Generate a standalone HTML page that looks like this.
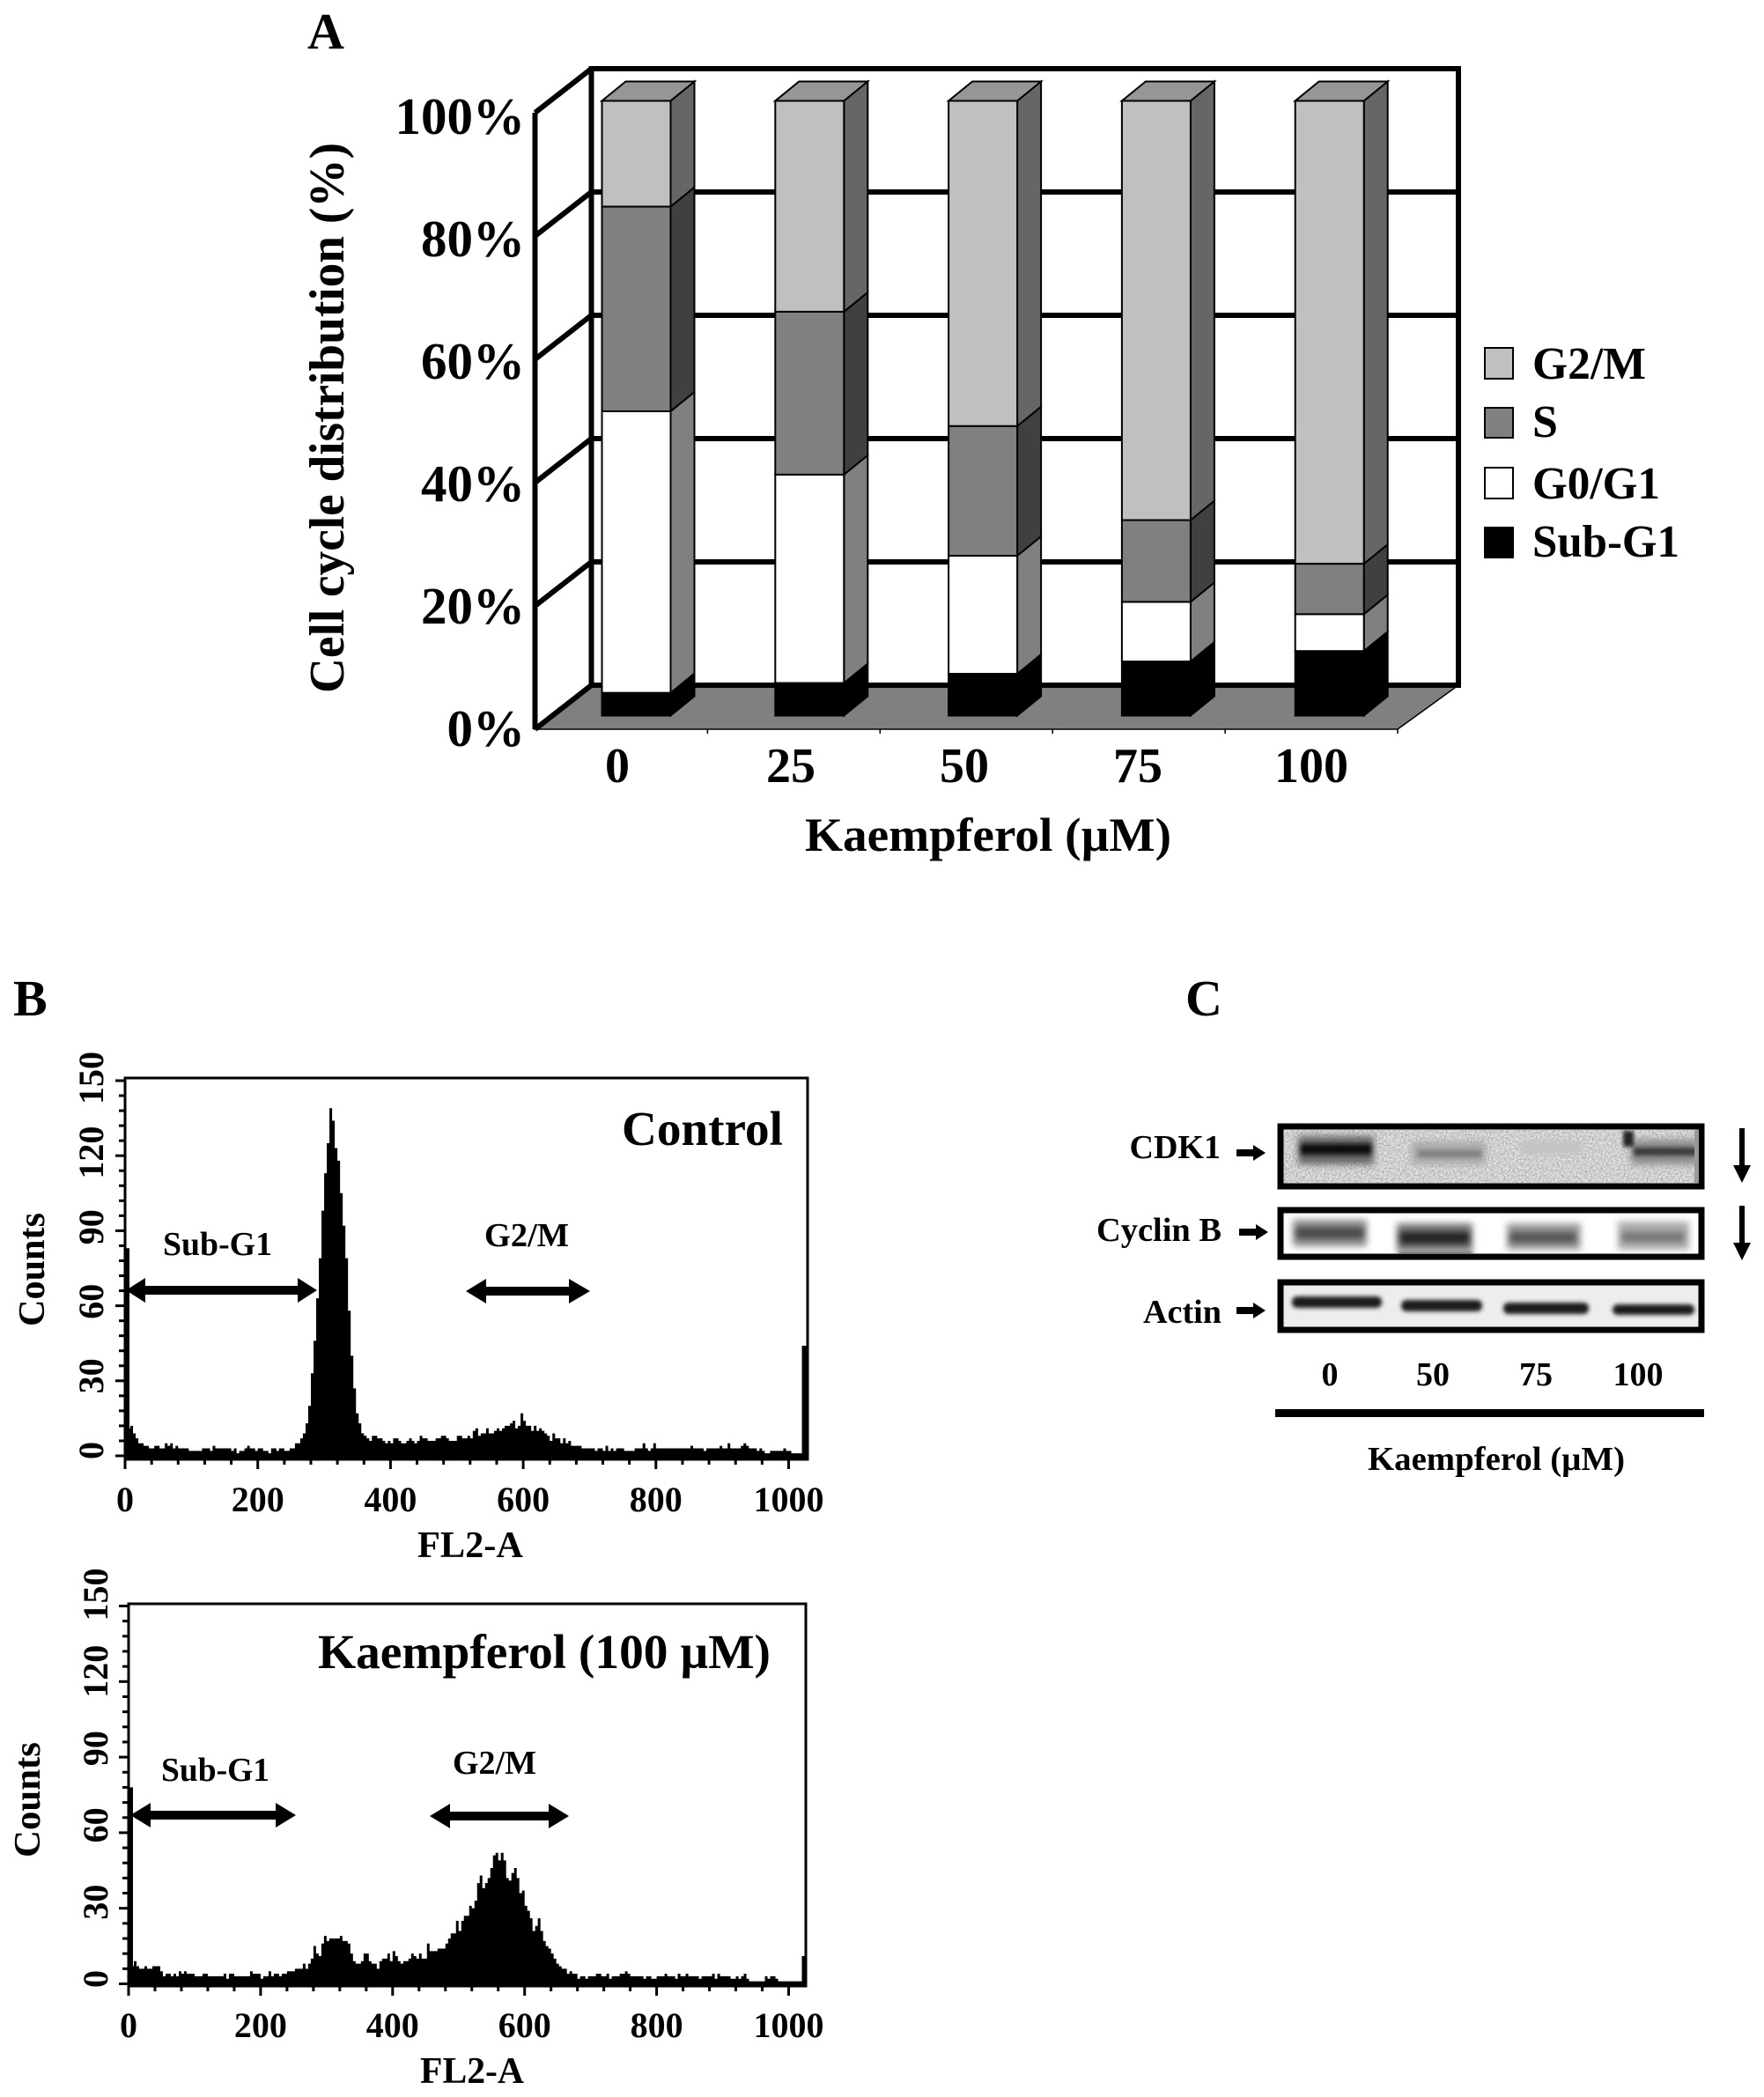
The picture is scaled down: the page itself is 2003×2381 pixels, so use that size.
<!DOCTYPE html>
<html>
<head>
<meta charset="utf-8">
<title>Kaempferol cell cycle figure</title>
<style>
html,body{margin:0;padding:0;background:#fff;}
svg{display:block;}
text{font-family:"Liberation Serif",serif;font-weight:bold;fill:#000;}
</style>
</head>
<body>
<svg id="fig" xmlns="http://www.w3.org/2000/svg" width="2003" height="2381" viewBox="0 0 2003 2381">
<defs>
<filter id="b2" x="-20%" y="-50%" width="140%" height="200%"><feGaussianBlur stdDeviation="2.5"/></filter>
<filter id="b3" x="-20%" y="-60%" width="140%" height="220%"><feGaussianBlur stdDeviation="3.5"/></filter>
<filter id="b4" x="-20%" y="-60%" width="140%" height="220%"><feGaussianBlur stdDeviation="4"/></filter>
<filter id="grain" x="0" y="0" width="100%" height="100%"><feTurbulence type="fractalNoise" baseFrequency="0.5" numOctaves="2" seed="4"/><feColorMatrix type="matrix" values="0 0 0 0 0  0 0 0 0 0  0 0 0 0 0  0.9 0.9 0 0 -0.68"/></filter>
<clipPath id="clip1"><rect x="1457" y="1281" width="472" height="60"/></clipPath>
<clipPath id="clip2"><rect x="1457" y="1375" width="472" height="46"/></clipPath>
<clipPath id="clip3"><rect x="1457" y="1456" width="472" height="46"/></clipPath>
</defs>
<rect width="2003" height="2381" fill="#fff"/>

<!-- Panel A -->
<g id="panelA"></g>
<text x="349" y="55" font-size="58">A</text>
<text transform="translate(390,787) rotate(-90)" font-size="56" textLength="625" lengthAdjust="spacingAndGlyphs">Cell cycle distribution (%)</text>
<text x="914" y="966" font-size="54" textLength="416" lengthAdjust="spacingAndGlyphs">Kaempferol (µM)</text>
<g>
<rect x="1686" y="395" width="32" height="35" fill="#c0c0c0" stroke="#000" stroke-width="2"/>
<text x="1740" y="430" font-size="52" textLength="129" lengthAdjust="spacingAndGlyphs">G2/M</text>
<rect x="1686" y="463" width="32" height="34" fill="#808080" stroke="#000" stroke-width="2"/>
<text x="1740" y="496" font-size="52">S</text>
<rect x="1686" y="531" width="32" height="35" fill="#fff" stroke="#000" stroke-width="2"/>
<text x="1740" y="566" font-size="52" textLength="145" lengthAdjust="spacingAndGlyphs">G0/G1</text>
<rect x="1686" y="599" width="32" height="34" fill="#000" stroke="#000" stroke-width="2"/>
<text x="1740" y="632" font-size="52" textLength="167" lengthAdjust="spacingAndGlyphs">Sub-G1</text>
</g>

<!-- Panel B -->
<text x="15" y="1153" font-size="58">B</text>
<g id="histTop"></g>
<text transform="translate(50,1506) rotate(-90)" font-size="42" textLength="129" lengthAdjust="spacingAndGlyphs">Counts</text>
<text x="474" y="1768" font-size="42" textLength="120" lengthAdjust="spacingAndGlyphs">FL2-A</text>
<text x="706" y="1300" font-size="55" textLength="183" lengthAdjust="spacingAndGlyphs">Control</text>
<text x="185" y="1425" font-size="38" textLength="124" lengthAdjust="spacingAndGlyphs">Sub-G1</text>
<text x="550" y="1415" font-size="38" textLength="96" lengthAdjust="spacingAndGlyphs">G2/M</text>
<polygon points="143,1465 165,1451 165,1460 338,1460 338,1451 360,1465 338,1479 338,1470 165,1470 165,1479" fill="#000"/>
<polygon points="529,1466 552,1452 552,1461 646,1461 646,1452 670,1466 646,1480 646,1471 552,1471 552,1480" fill="#000"/>

<g id="histBottom"></g>
<text transform="translate(45,2109) rotate(-90)" font-size="42" textLength="131" lengthAdjust="spacingAndGlyphs">Counts</text>
<text x="477" y="2365" font-size="42" textLength="118" lengthAdjust="spacingAndGlyphs">FL2-A</text>
<text x="361" y="1894" font-size="55" textLength="514" lengthAdjust="spacingAndGlyphs">Kaempferol (100 µM)</text>
<text x="183" y="2022" font-size="38" textLength="123" lengthAdjust="spacingAndGlyphs">Sub-G1</text>
<text x="514" y="2014" font-size="38" textLength="95" lengthAdjust="spacingAndGlyphs">G2/M</text>
<polygon points="148,2061 171,2047 171,2056 313,2056 313,2047 336,2061 313,2075 313,2066 171,2066 171,2075" fill="#000"/>
<polygon points="488,2062 511,2048 511,2057 623,2057 623,2048 646,2062 623,2076 623,2067 511,2067 511,2076" fill="#000"/>

<!-- Panel C -->
<text x="1346" y="1153" font-size="58">C</text>
<g transform="translate(0,2)">
<rect x="1454" y="1277" width="478" height="68" fill="#e6e6e6" stroke="#000" stroke-width="7"/>
<g clip-path="url(#clip1)">
<rect x="1457" y="1281" width="472" height="60" filter="url(#grain)" opacity="0.45"/>
<rect x="1474" y="1288" width="86" height="32" fill="#666" filter="url(#b4)"/>
<rect x="1477" y="1297" width="80" height="12" fill="#111" filter="url(#b2)"/>
<rect x="1603" y="1294" width="84" height="26" fill="#aaa" filter="url(#b4)"/>
<rect x="1610" y="1304" width="72" height="8" fill="#808080" filter="url(#b2)"/>
<rect x="1728" y="1294" width="68" height="14" fill="#c2c2c2" filter="url(#b4)"/>
<rect x="1852" y="1292" width="76" height="28" fill="#8c8c8c" filter="url(#b4)"/>
<rect x="1855" y="1301" width="72" height="9" fill="#3a3a3a" filter="url(#b2)"/>
<rect x="1843" y="1282" width="12" height="18" fill="#222" filter="url(#b2)"/>
<rect x="1924" y="1281" width="6" height="60" fill="#999"/>
</g>
</g>
<g transform="translate(0,3)">
<rect x="1454" y="1371" width="478" height="53" fill="#fff" stroke="#000" stroke-width="7"/>
<g clip-path="url(#clip2)">
<rect x="1468" y="1382" width="84" height="30" fill="#8c8c8c" filter="url(#b4)"/>
<rect x="1472" y="1391" width="76" height="12" fill="#4a4a4a" filter="url(#b3)"/>
<rect x="1586" y="1386" width="86" height="32" fill="#777" filter="url(#b4)"/>
<rect x="1590" y="1396" width="78" height="13" fill="#222" filter="url(#b3)"/>
<rect x="1588" y="1418" width="84" height="8" fill="#666" filter="url(#b2)"/>
<rect x="1711" y="1386" width="84" height="30" fill="#999" filter="url(#b4)"/>
<rect x="1715" y="1396" width="74" height="12" fill="#555" filter="url(#b3)"/>
<rect x="1837" y="1384" width="81" height="32" fill="#aaa" filter="url(#b4)"/>
<rect x="1842" y="1396" width="70" height="11" fill="#777" filter="url(#b3)"/>
</g>
</g>
<g transform="translate(0,4)">
<rect x="1454" y="1452" width="478" height="54" fill="#ededed" stroke="#000" stroke-width="7"/>
<g clip-path="url(#clip3)">
<rect x="1467" y="1468" width="102" height="13" rx="6" fill="#1c1c1c" filter="url(#b2)"/>
<rect x="1591" y="1472" width="92" height="13" rx="6" fill="#1c1c1c" filter="url(#b2)"/>
<rect x="1707" y="1475" width="97" height="13" rx="6" fill="#1c1c1c" filter="url(#b2)"/>
<rect x="1831" y="1477" width="93" height="12" rx="6" fill="#1c1c1c" filter="url(#b2)"/>
</g>
</g>
<text x="1386" y="1315" font-size="38" text-anchor="end">CDK1</text>
<text x="1387" y="1409" font-size="38" text-anchor="end" textLength="142" lengthAdjust="spacingAndGlyphs">Cyclin B</text>
<text x="1387" y="1502" font-size="38" text-anchor="end" textLength="89" lengthAdjust="spacingAndGlyphs">Actin</text>
<polygon points="1404,1305 1423,1305 1423,1300 1437,1309 1423,1318 1423,1313 1404,1313" fill="#000"/>
<polygon points="1407,1395 1426,1395 1426,1390 1440,1399 1426,1408 1426,1403 1407,1403" fill="#000"/>
<polygon points="1404,1484 1423,1484 1423,1479 1437,1488 1423,1497 1423,1492 1404,1492" fill="#000"/>
<polygon points="1975,1281 1981,1281 1981,1323 1988,1323 1978,1343 1968,1323 1975,1323" fill="#000"/>
<polygon points="1975,1369 1981,1369 1981,1411 1988,1411 1978,1431 1968,1411 1975,1411" fill="#000"/>
<text x="1510" y="1573" font-size="38" text-anchor="middle">0</text>
<text x="1627" y="1573" font-size="38" text-anchor="middle">50</text>
<text x="1744" y="1573" font-size="38" text-anchor="middle">75</text>
<text x="1860" y="1573" font-size="38" text-anchor="middle">100</text>
<rect x="1448" y="1600" width="487" height="9" fill="#000"/>
<text x="1553" y="1669" font-size="38" textLength="292" lengthAdjust="spacingAndGlyphs">Kaempferol (µM)</text>
</svg>

<script>
// ---- Panel A data ----
const doseCategories = ['0', '25', '50', '75', '100'];
const subG1Values = [3.7, 5.3, 6.8, 8.8, 10.5];
const g0g1Values = [45.8, 33.9, 19.2, 9.7, 6.0];
const sPhaseValues = [33.3, 26.5, 21.1, 13.3, 8.2];
const g2mValues = [17.2, 34.3, 52.9, 68.2, 75.3];
const percentTicks = [0, 20, 40, 60, 80, 100];

// ---- Panel B data (counts per 4-channel bin) ----
const controlCounts = [
83,11,12,9,7,5,5,4,4,3,
3,4,4,3,3,5,4,5,3,4,
3,3,3,3,2,2,2,2,2,3,
3,3,2,4,3,3,3,3,3,3,
2,3,1,2,2,3,4,3,3,2,
3,3,2,2,1,3,3,2,3,3,
2,2,3,3,5,5,7,9,13,20,
33,46,63,79,98,113,125,139,134,123,
118,105,92,79,58,40,27,17,13,9,
8,7,6,8,8,7,7,6,5,6,
5,7,7,6,5,5,6,7,6,5,
6,8,7,7,6,6,6,7,7,8,
8,7,6,6,6,8,8,7,7,8,
7,10,11,8,9,9,11,9,9,10,
11,10,11,12,12,13,14,11,12,17,
14,12,12,10,12,10,11,10,9,8,
6,9,7,7,5,7,5,6,4,4,
4,4,3,3,3,3,3,2,3,3,
2,4,2,3,2,3,3,3,2,2,
2,2,3,3,3,5,3,2,3,5,
3,3,3,3,3,3,3,3,3,3,
3,3,3,4,3,3,3,3,2,3,
3,3,3,3,4,3,3,5,3,3,
3,3,4,5,4,3,3,3,2,3,
2,1,1,2,2,2,2,2,3,2,
2,1,1,1,1,44];
const kaempferolCounts = [
78,7,9,7,6,6,7,6,6,7,
7,7,5,3,4,4,3,4,3,5,
4,5,4,4,4,3,3,3,4,4,
3,3,3,3,3,3,4,2,4,4,
3,3,3,3,3,3,5,4,4,4,
2,3,3,5,3,4,4,3,4,4,
5,5,5,6,6,6,8,6,8,10,
15,12,11,16,19,17,18,18,18,18,
19,17,17,16,12,9,8,8,9,12,
12,9,8,8,6,9,10,10,12,9,
13,11,9,8,9,9,10,12,11,10,
12,10,10,16,13,13,13,14,14,14,
16,18,20,20,25,21,25,27,27,31,
30,33,40,43,38,40,42,46,51,52,
49,52,49,42,41,44,46,42,36,37,
31,29,26,21,23,26,21,17,15,14,
12,10,8,7,6,6,4,5,4,4,
2,3,3,2,3,3,3,4,4,3,
3,4,2,3,3,3,4,4,5,4,
3,3,3,3,3,2,3,3,2,2,
3,3,3,4,3,3,3,2,4,3,
3,4,3,3,3,3,2,3,3,3,
3,4,2,4,3,3,3,3,2,2,
3,2,3,4,2,1,1,1,1,1,
1,3,2,3,3,2,1,1,1,1,
1,1,1,1,1,11];
const channelTicks = [0, 200, 400, 600, 800, 1000];
const countTicks = [0, 30, 60, 90, 120, 150];

const NS = 'http://www.w3.org/2000/svg';
function mk(parent, tag, attrs, txt) {
  const el = document.createElementNS(NS, tag);
  for (const k in attrs) el.setAttribute(k, attrs[k]);
  if (txt !== undefined) el.textContent = txt;
  parent.appendChild(el);
  return el;
}

// ---- Panel A ----
(function () {
  const g = document.getElementById('panelA');
  const backY = v => 778 - 7.0 * v;
  const frontY = v => 828 - 7.0 * v;
  const labelY = v => 847 - 6.95 * v;
  const barY = v => 812.5 - 6.98 * v;
  const barX = i => 683.5 + 196.8 * i;
  const labelX = i => 701 + 197 * i;
  const BW = 78, DX = 27, DY = 22;
  const LF = 607.5, LB = 671.5, RF = 1587, RB = 1656;

  let el = mk(g, 'polygon', {points: [LF, frontY(0), RF, frontY(0), RB, backY(0), LB, backY(0)].join(' '), fill: '#808080', stroke: '#000', 'stroke-width': 1.5});
  
  

  percentTicks.forEach(function (v) {
    if (v > 0 && v < 100) {
      const line = mk(g, 'line', {x1: LB, x2: RB, y1: backY(v), y2: backY(v), stroke: '#000', 'stroke-width': 6});
      
      
    }
    const diag = mk(g, 'line', {x1: LF, y1: frontY(v), x2: LB, y2: backY(v), stroke: '#000', 'stroke-width': 6});
    
    
    const lab = mk(g, 'text', {x: 596, y: labelY(v), 'font-size': 59, 'text-anchor': 'end'}, v + '%');
    
    
  });

  el = mk(g, 'path', {d: 'M' + LF + ',' + frontY(100) + 'V' + frontY(0) + 'M' + LB + ',' + backY(100) + 'V' + backY(0) + 'M' + (LB - 3) + ',' + backY(100) + 'H' + (RB + 3) + 'M' + RB + ',' + backY(100) + 'V' + (backY(0) + 3) + 'M' + LB + ',' + backY(0) + 'H' + RB, stroke: '#000', 'stroke-width': 6, fill: 'none'});
  
  

  doseCategories.forEach(function (c, i) {
    const tx = LF + (RF - LF) / doseCategories.length * (i + 1);
    const tk = mk(g, 'line', {x1: tx, x2: tx, y1: frontY(0), y2: frontY(0) + 5, stroke: '#000', 'stroke-width': 1.5});
    
    
  });

  const seriesList = [
    {name: 'sub-g1', vals: subG1Values, front: '#000', side: '#000'},
    {name: 'g0-g1', vals: g0g1Values, front: '#fff', side: '#808080'},
    {name: 's', vals: sPhaseValues, front: '#808080', side: '#404040'},
    {name: 'g2-m', vals: g2mValues, front: '#c0c0c0', side: '#666'}
  ];
  doseCategories.forEach(function (c, i) {
    let cum = 0;
    const x = barX(i);
    seriesList.forEach(function (s) {
      const y0 = barY(cum);
      cum += s.vals[i];
      const y1 = barY(cum);
      const side = mk(g, 'polygon', {points: [x + BW, y0, x + BW + DX, y0 - DY, x + BW + DX, y1 - DY, x + BW, y1].join(' '), fill: s.side, stroke: '#000', 'stroke-width': 2});
      
      
      const front = mk(g, 'rect', {x: x, y: y1, width: BW, height: y0 - y1, fill: s.front, stroke: '#000', 'stroke-width': 2});
      
      
    });
    const yTop = barY(cum);
    const top = mk(g, 'polygon', {points: [x, yTop, x + DX, yTop - DY, x + BW + DX, yTop - DY, x + BW, yTop].join(' '), fill: '#969696', stroke: '#000', 'stroke-width': 2});
    
    
    const lab = mk(g, 'text', {x: labelX(i), y: 888, 'font-size': 56, 'text-anchor': 'middle'}, c);
    
    
  });
})();

// ---- Panel B histograms ----
function drawHistogram(gid, counts, o) {
  const g = document.getElementById(gid);
  const X = ch => o.x0 + o.xs * ch;
  const Y = v => o.y0 - o.ys * v;
  const last = counts.length - 1;
  let d = 'M' + (o.left - 1.5) + ',' + o.bottom;
  counts.forEach(function (v, k) {
    const xa = k === 0 ? o.left - 1.5 : (k === 1 ? X(4) + 2 : X(4 * k));
    const xb = k === 0 ? X(4) + 2 : (k === last ? o.right : X(4 * k + 4));
    d += 'L' + xa + ',' + Y(v) + 'L' + xb + ',' + Y(v);
  });
  d += 'L' + o.right + ',' + o.bottom + 'Z';
  const hist = mk(g, 'path', {d: d, fill: '#000'});
  
  

  const box = mk(g, 'rect', {x: o.left, y: o.top, width: o.right - o.left, height: o.bottom - o.top, fill: 'none', stroke: '#000', 'stroke-width': 3});
  
  

  for (let ch = 0; ch <= 1000; ch += 40) {
    const major = ch % 200 === 0;
    const t = mk(g, 'line', {x1: X(ch), x2: X(ch), y1: o.bottom, y2: o.bottom + (major ? 11 : 6), stroke: '#000', 'stroke-width': 3});
    
    
  }
  for (let v = 0; v <= 150; v += 6) {
    const major = v % 30 === 0;
    const t = mk(g, 'line', {x1: o.left - (major ? 11 : 7), x2: o.left, y1: Y(v), y2: Y(v), stroke: '#000', 'stroke-width': 3});
    
    
  }
  channelTicks.forEach(function (ch) {
    const t = mk(g, 'text', {x: X(ch), y: o.xLabelY, 'font-size': 40, 'text-anchor': 'middle'}, String(ch));
    
    
  });
  countTicks.forEach(function (v) {
    const cy = o.yLab0 - o.yLabS * v;
    const t = mk(g, 'text', {transform: 'translate(' + o.yLabX + ',' + cy + ') rotate(-90)', 'font-size': 40, 'text-anchor': 'middle'}, String(v));
    
    
  });
}
drawHistogram('histTop', controlCounts, {x0: 142, xs: 0.7535, y0: 1653, ys: 2.84, left: 142, right: 917, top: 1224, bottom: 1657, xLabelY: 1716, yLab0: 1647, yLabS: 2.82, yLabX: 117});
drawHistogram('histBottom', kaempferolCounts, {x0: 146, xs: 0.7495, y0: 2252.5, ys: 2.86, left: 146, right: 915, top: 1821, bottom: 2255, xLabelY: 2313, yLab0: 2247, yLabS: 2.91, yLabX: 122});
</script>
</body>
</html>
